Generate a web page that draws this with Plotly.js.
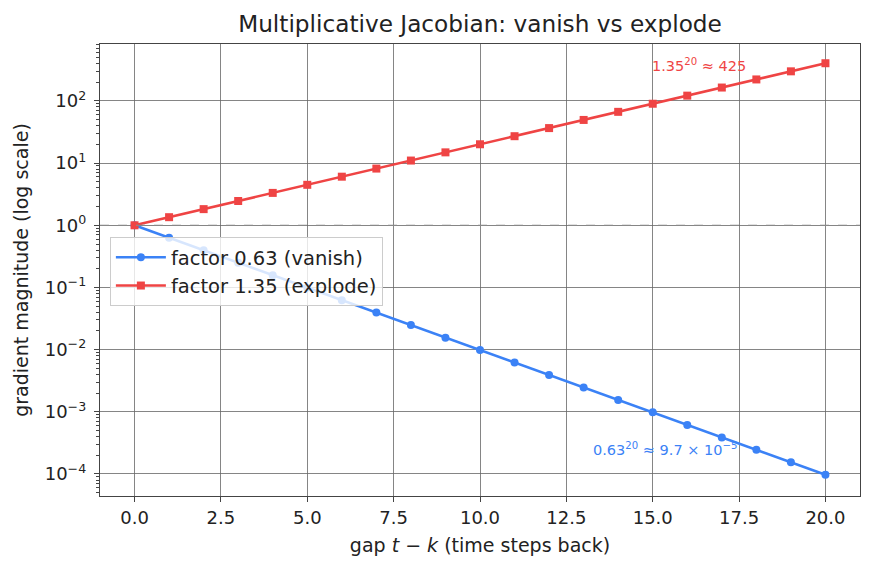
<!DOCTYPE html>
<html><head><meta charset="utf-8">
<script src="https://cdn.plot.ly/plotly-3.0.1.min.js"></script>
<style>html,body{margin:0;padding:0;background:#fff}#chart{width:874px;height:573px}</style>
</head><body><div id="chart"></div>
<script>
const gap = [0,1,2,3,4,5,6,7,8,9,10,11,12,13,14,15,16,17,18,19,20];
const vanish = [1, 0.63, 0.397, 0.25, 0.1575, 0.0992, 0.0625, 0.0394, 0.0248, 0.0156, 0.00985, 0.0062, 0.0039, 0.00246, 0.00155, 0.00098, 0.000616, 0.000388, 0.000245, 0.000154, 0.0000971];
const explode = [1, 1.35, 1.82, 2.46, 3.32, 4.48, 6.05, 8.17, 11.0, 14.9, 20.1, 27.1, 36.6, 49.5, 66.8, 90.2, 121.7, 164.3, 221.8, 299.5, 404.3];
const seriesNames = ['factor 0.63 (vanish)', 'factor 1.35 (explode)'];
const yTickVals = [1e-4, 1e-3, 1e-2, 1e-1, 1, 10, 100];
const yTickText = ['10<sup>−4</sup>','10<sup>−3</sup>','10<sup>−2</sup>','10<sup>−1</sup>','10<sup>0</sup>','10<sup>1</sup>','10<sup>2</sup>'];
const refLine = 1;

const blue = '#3b82f6', red = '#ef4444';
const font = 'DejaVu Sans, sans-serif';

const traces = [
  {x: gap, y: vanish, name: seriesNames[0], mode: 'lines+markers', line: {color: blue, width: 2.6}, marker: {symbol: 'circle', size: 8, color: blue}},
  {x: gap, y: explode, name: seriesNames[1], mode: 'lines+markers', line: {color: red, width: 2.6}, marker: {symbol: 'square', size: 8, color: red}}
];

const layout = {
  width: 874, height: 573,
  margin: {l: 100, r: 14, t: 44, b: 77},
  paper_bgcolor: '#fff', plot_bgcolor: '#fff',
  font: {family: font, size: 18, color: '#222'},
  title: {text: 'Multiplicative Jacobian: vanish vs explode', font: {size: 23.2, color: '#222'}, xref: 'paper', x: 0.5, xanchor: 'center', y: 0.958, yanchor: 'middle'},
  xaxis: {
    range: [-1, 21], tickmode: 'linear', tick0: 0, dtick: 2.5, tickformat: '.1f',
    ticks: 'outside', ticklen: 5, tickcolor: '#444', showline: true, linecolor: '#444', linewidth: 1.2, mirror: true,
    showgrid: true, gridcolor: '#666', gridwidth: 0.8, zeroline: false,
    tickfont: {size: 18},
    title: {text: 'gap <i>t</i> − <i>k</i> (time steps back)', font: {size: 19}, standoff: 12}
  },
  yaxis: {
    type: 'log', range: [-4.354, 2.916],
    tickmode: 'array', tickvals: yTickVals, ticktext: yTickText,
    ticks: 'outside', ticklen: 5, tickcolor: '#444', showline: true, linecolor: '#444', linewidth: 1.2, mirror: true,
    showgrid: true, gridcolor: '#666', gridwidth: 0.8, zeroline: false,
    tickfont: {size: 18}, ticklabelstandoff: 4,
    minor: {ticks: 'outside', ticklen: 2.5, tickcolor: '#444', showgrid: false, dtick: 'D1'},
    title: {text: 'gradient magnitude (log scale)', font: {size: 19}, standoff: 11}
  },
  shapes: [{type: 'line', xref: 'paper', x0: 0, x1: 1, yref: 'y', y0: refLine, y1: refLine, line: {color: '#888', width: 1.2, dash: 'dash'}, layer: 'above'}],
  annotations: [
    {x: 15, y: Math.log10(explode[20]) - 0.03, xref: 'x', yref: 'y', text: '1.35<sup>20</sup> ≈ 425', showarrow: false, xanchor: 'left', yanchor: 'middle', xshift: -3, font: {color: red, size: 14.5}},
    {x: 13.25, y: Math.log10(vanish[20]) + 0.415, xref: 'x', yref: 'y', text: '0.63<sup>20</sup> ≈ 9.7 × 10<sup>−5</sup>', showarrow: false, xanchor: 'left', yanchor: 'middle', xshift: -1, font: {color: blue, size: 14.5}}
  ],
  legend: {x: 0.013, y: 0.573, xanchor: 'left', yanchor: 'top', bgcolor: 'rgba(255,255,255,0.8)', bordercolor: '#ccc', borderwidth: 1, font: {size: 19.5}, itemwidth: 50, tracegroupgap: 0},
  showlegend: true
};

Plotly.newPlot('chart', traces, layout, {displayModeBar: false, staticPlot: true});
</script></body></html>
